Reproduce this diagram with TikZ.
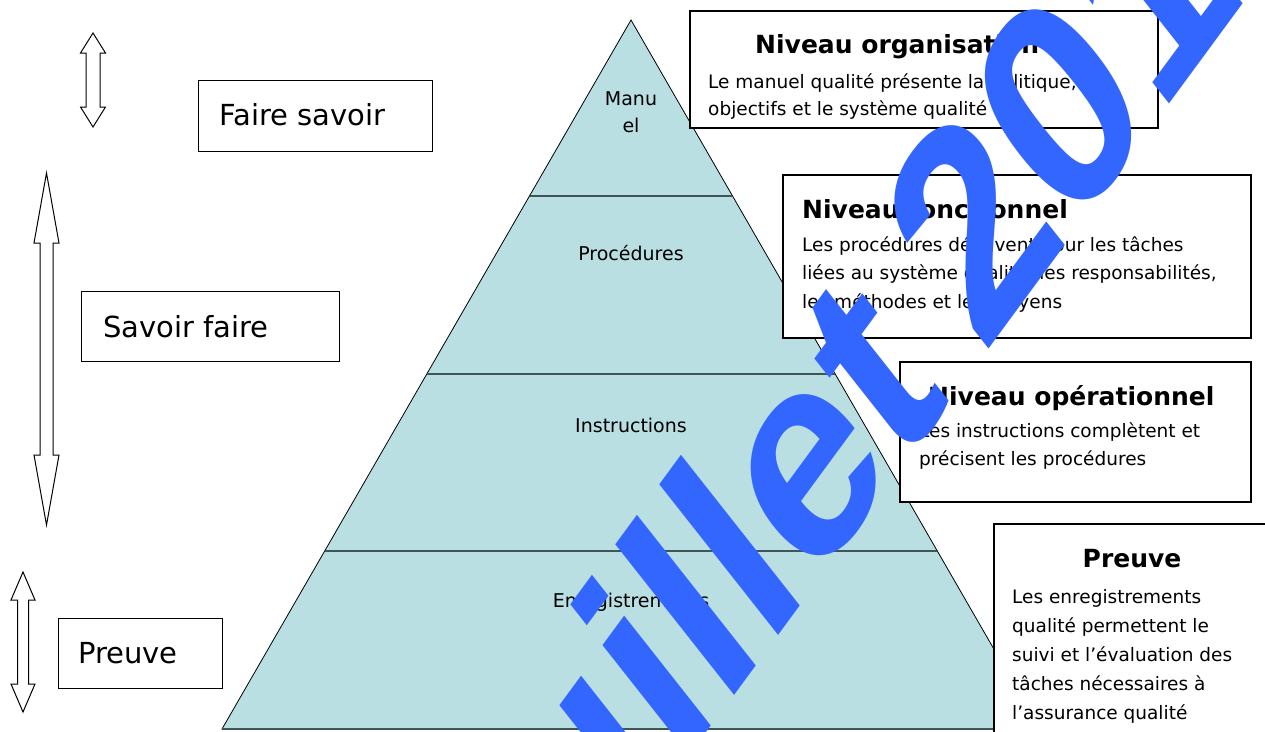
\documentclass[tikz,border=0pt]{standalone}
\usepackage{fontspec}
\setmainfont{DejaVu Sans}
\newfontfamily\wmfont{Liberation Sans}
\usetikzlibrary{positioning,calc}

\definecolor{pyrfill}{RGB}{185,223,227}
\definecolor{pyrline}{RGB}{62,86,86}
\definecolor{wmblue}{RGB}{51,102,255}

\tikzset{
  cadre/.style={draw, line width=1.8pt, fill=white, anchor=north west, inner sep=0pt},
  lcadre/.style={draw, line width=1.3pt, fill=white, anchor=north west, inner sep=0pt},
  etiq/.style={anchor=base west, inner sep=0pt, font=\fontsize{29}{29}\selectfont},
  corps/.style={anchor=base west, inner sep=0pt, font=\fontsize{18.5}{29}\selectfont},
  titre/.style={anchor=base west, inner sep=0pt, font=\fontsize{25}{25}\selectfont\bfseries},
  couche/.style={anchor=base, inner sep=0pt, font=\fontsize{19}{27}\selectfont},
}

% double fleche creuse : x, haut, bas, longueur tete, demi-largeur tete, demi-largeur tige
\newcommand{\dfleche}[6]{%
  \draw[line width=1pt, fill=white] (#1-#5,#2+#4) -- (#1,#2) -- (#1+#5,#2+#4) -- (#1+#6,#2+#4)
    -- (#1+#6,#3-#4) -- (#1+#5,#3-#4) -- (#1,#3) -- (#1-#5,#3-#4) -- (#1-#6,#3-#4)
    -- (#1-#6,#2+#4) -- cycle;}

\begin{document}
\begin{tikzpicture}[x=1pt,y=-1pt]
\fill[white] (0,0) rectangle (1265,731);
\useasboundingbox (0,0) rectangle (1265,731);

% pyramide
\coordinate (sommet) at (631,20);
\coordinate (basg) at (222,729);
\coordinate (basd) at (1040,729);
\draw[fill=pyrfill, line width=0.8pt] (sommet) -- (basg) -- (basd) -- cycle;
\foreach \y in {196,374,551}
  \draw[pyrline, line width=2.2pt] ({631-0.576*(\y-20)},\y) -- ({631+0.576*(\y-20)},\y);
\draw[pyrline, line width=2pt] (basg) -- (basd);

\node[couche] (manu) at (631,105) {Manu};
\node[couche] (el) at (631,132) {el};
\node[couche] (proc) at (631,260) {Procédures};
\node[couche] (instr) at (631,432) {Instructions};
\node[couche] (enreg) at (631,607) {Enregistrements};

% cadres de gauche
\node[lcadre, minimum width=234pt, minimum height=71pt] (fsbox) at (198,80) {};
\node[etiq] (fs) at (219,125) {Faire savoir};
\node[lcadre, minimum width=258pt, minimum height=70pt] (sfbox) at (81,291) {};
\node[etiq] (sf) at (103,337) {Savoir faire};
\node[lcadre, minimum width=164pt, minimum height=70pt] (prbox) at (58,618) {};
\node[etiq] (pr) at (78,663) {Preuve};

\dfleche{93}{33}{127}{20}{12.5}{7}
\dfleche{46.5}{173}{525}{70}{12.5}{6.5}
\dfleche{23}{572}{712}{28}{12}{5.5}

% cadres de droite
\node[cadre, minimum width=468pt, minimum height=117pt] (orgbox) at (689,10) {};
\node[titre] (orgt) at (755,53) {Niveau organisation};
\foreach \ligne [count=\i from 0] in {{Le manuel qualité présente la politique, les},{objectifs et le système qualité}}
  \node[corps] (org-\i) at (708,{88+27*\i}) {\ligne};

\node[cadre, minimum width=468pt, minimum height=163pt] (foncbox) at (782,174) {};
\node[titre] (fonct) at (802,218) {Niveau fonctionnel};
\foreach \ligne [count=\i from 0] in {{Les procédures décrivent pour les tâches},{liées au système qualité, les responsabilités,},{les méthodes et les moyens}}
  \node[corps] (fonc-\i) at (802,{251+28.5*\i}) {\ligne};

\node[cadre, minimum width=351pt, minimum height=140pt] (operbox) at (899,361) {};
\node[titre] (opert) at (928,405) {Niveau opérationnel};
\foreach \ligne [count=\i from 0] in {{Les instructions complètent et},{précisent les procédures}}
  \node[corps] (oper-\i) at (919,{437+28*\i}) {\ligne};

\node[cadre, minimum width=290pt, minimum height=230pt] (preuvebox) at (993,523) {};
\node[titre, anchor=base] (preuvet) at (1132,567) {Preuve};
\foreach \ligne [count=\i from 0] in {{Les enregistrements},{qualité permettent le},{suivi et l’évaluation des},{tâches nécessaires à},{l’assurance qualité}}
  \node[corps] (preuve-\i) at (1012,{603+29*\i}) {\ligne};

% filigrane
\begin{scope}[shift={(494,1022)}, yscale=1.313, rotate=46]
  \node[anchor=base west, inner sep=0pt, text=wmblue, transform shape,
        font=\wmfont\bfseries\fontsize{228}{228}\selectfont] (filigrane) at (0,0) {Juillet\hspace{0.2em}2019};
\end{scope}
\end{tikzpicture}
\end{document}
